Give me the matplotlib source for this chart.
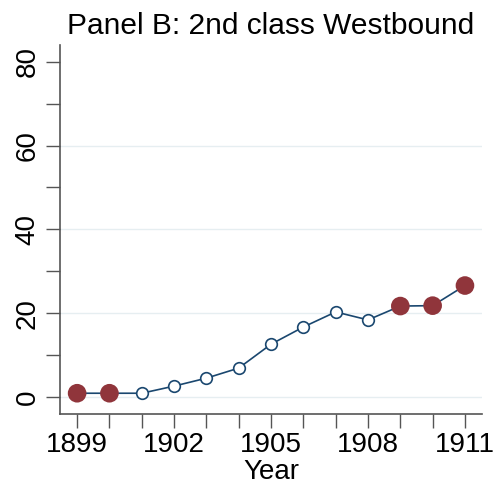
import matplotlib
matplotlib.use("Agg")
import matplotlib.pyplot as plt

plt.rcParams['font.family'] = ['Liberation Sans', 'DejaVu Sans']

years = [1899, 1900, 1901, 1902, 1903, 1904, 1905, 1906, 1907, 1908, 1909, 1910, 1911]
share = [0.9, 0.9, 0.9, 2.6, 4.5, 6.9, 12.6, 16.7, 20.3, 18.4, 21.7, 21.8, 26.6]
highlight = [True, True, False, False, False, False, False, False, False, False, True, True, True]

navy = '#1a476f'
maroon = '#90353b'

fig = plt.figure(figsize=(4.97, 4.88), dpi=100)
ax = fig.add_axes([0.1207, 0.1516, 0.8493, 0.7562])

ax.plot(years, share, color=navy, lw=1.2, zorder=3)
hx = [y for y, h in zip(years, highlight) if not h]
hy = [v for v, h in zip(share, highlight) if not h]
ax.scatter(hx, hy, s=70, facecolors='white', edgecolors=navy, linewidths=1.2, zorder=4)
fx = [y for y, h in zip(years, highlight) if h]
fy = [v for v, h in zip(share, highlight) if h]
ax.scatter(fx, fy, s=180, color=maroon, edgecolors='none', zorder=5)

ax.set_xlim(1898.47, 1911.53)
ax.set_ylim(-4.06, 84)
ax.set_xticks(range(1899, 1912, 3))
ax.set_xticks(range(1899, 1912), minor=True)
ax.set_yticks([0, 20, 40, 60, 80])
ax.set_yticks([10, 30, 50, 70], minor=True)
for lab in ax.get_yticklabels():
    lab.set_rotation(90)
    lab.set_va('center')
ax.tick_params(which='both', length=10, width=1, color='#555555', labelsize=20)
ax.tick_params(axis='x', which='major', pad=3)
ax.tick_params(axis='y', which='major', pad=4)

for g in [0, 20, 40, 60]:
    ax.axhline(g, color='#e6eef1', lw=1, zorder=1)

for s in ['top', 'right']:
    ax.spines[s].set_visible(False)
for s in ['left', 'bottom']:
    ax.spines[s].set_color('#555555')
    ax.spines[s].set_linewidth(1.2)

ax.set_xlabel('Year', fontsize=20, labelpad=1)
ax.set_title('Panel B: 2nd class Westbound', fontsize=21.5, pad=8)

fig.savefig('out.png', dpi=100)
